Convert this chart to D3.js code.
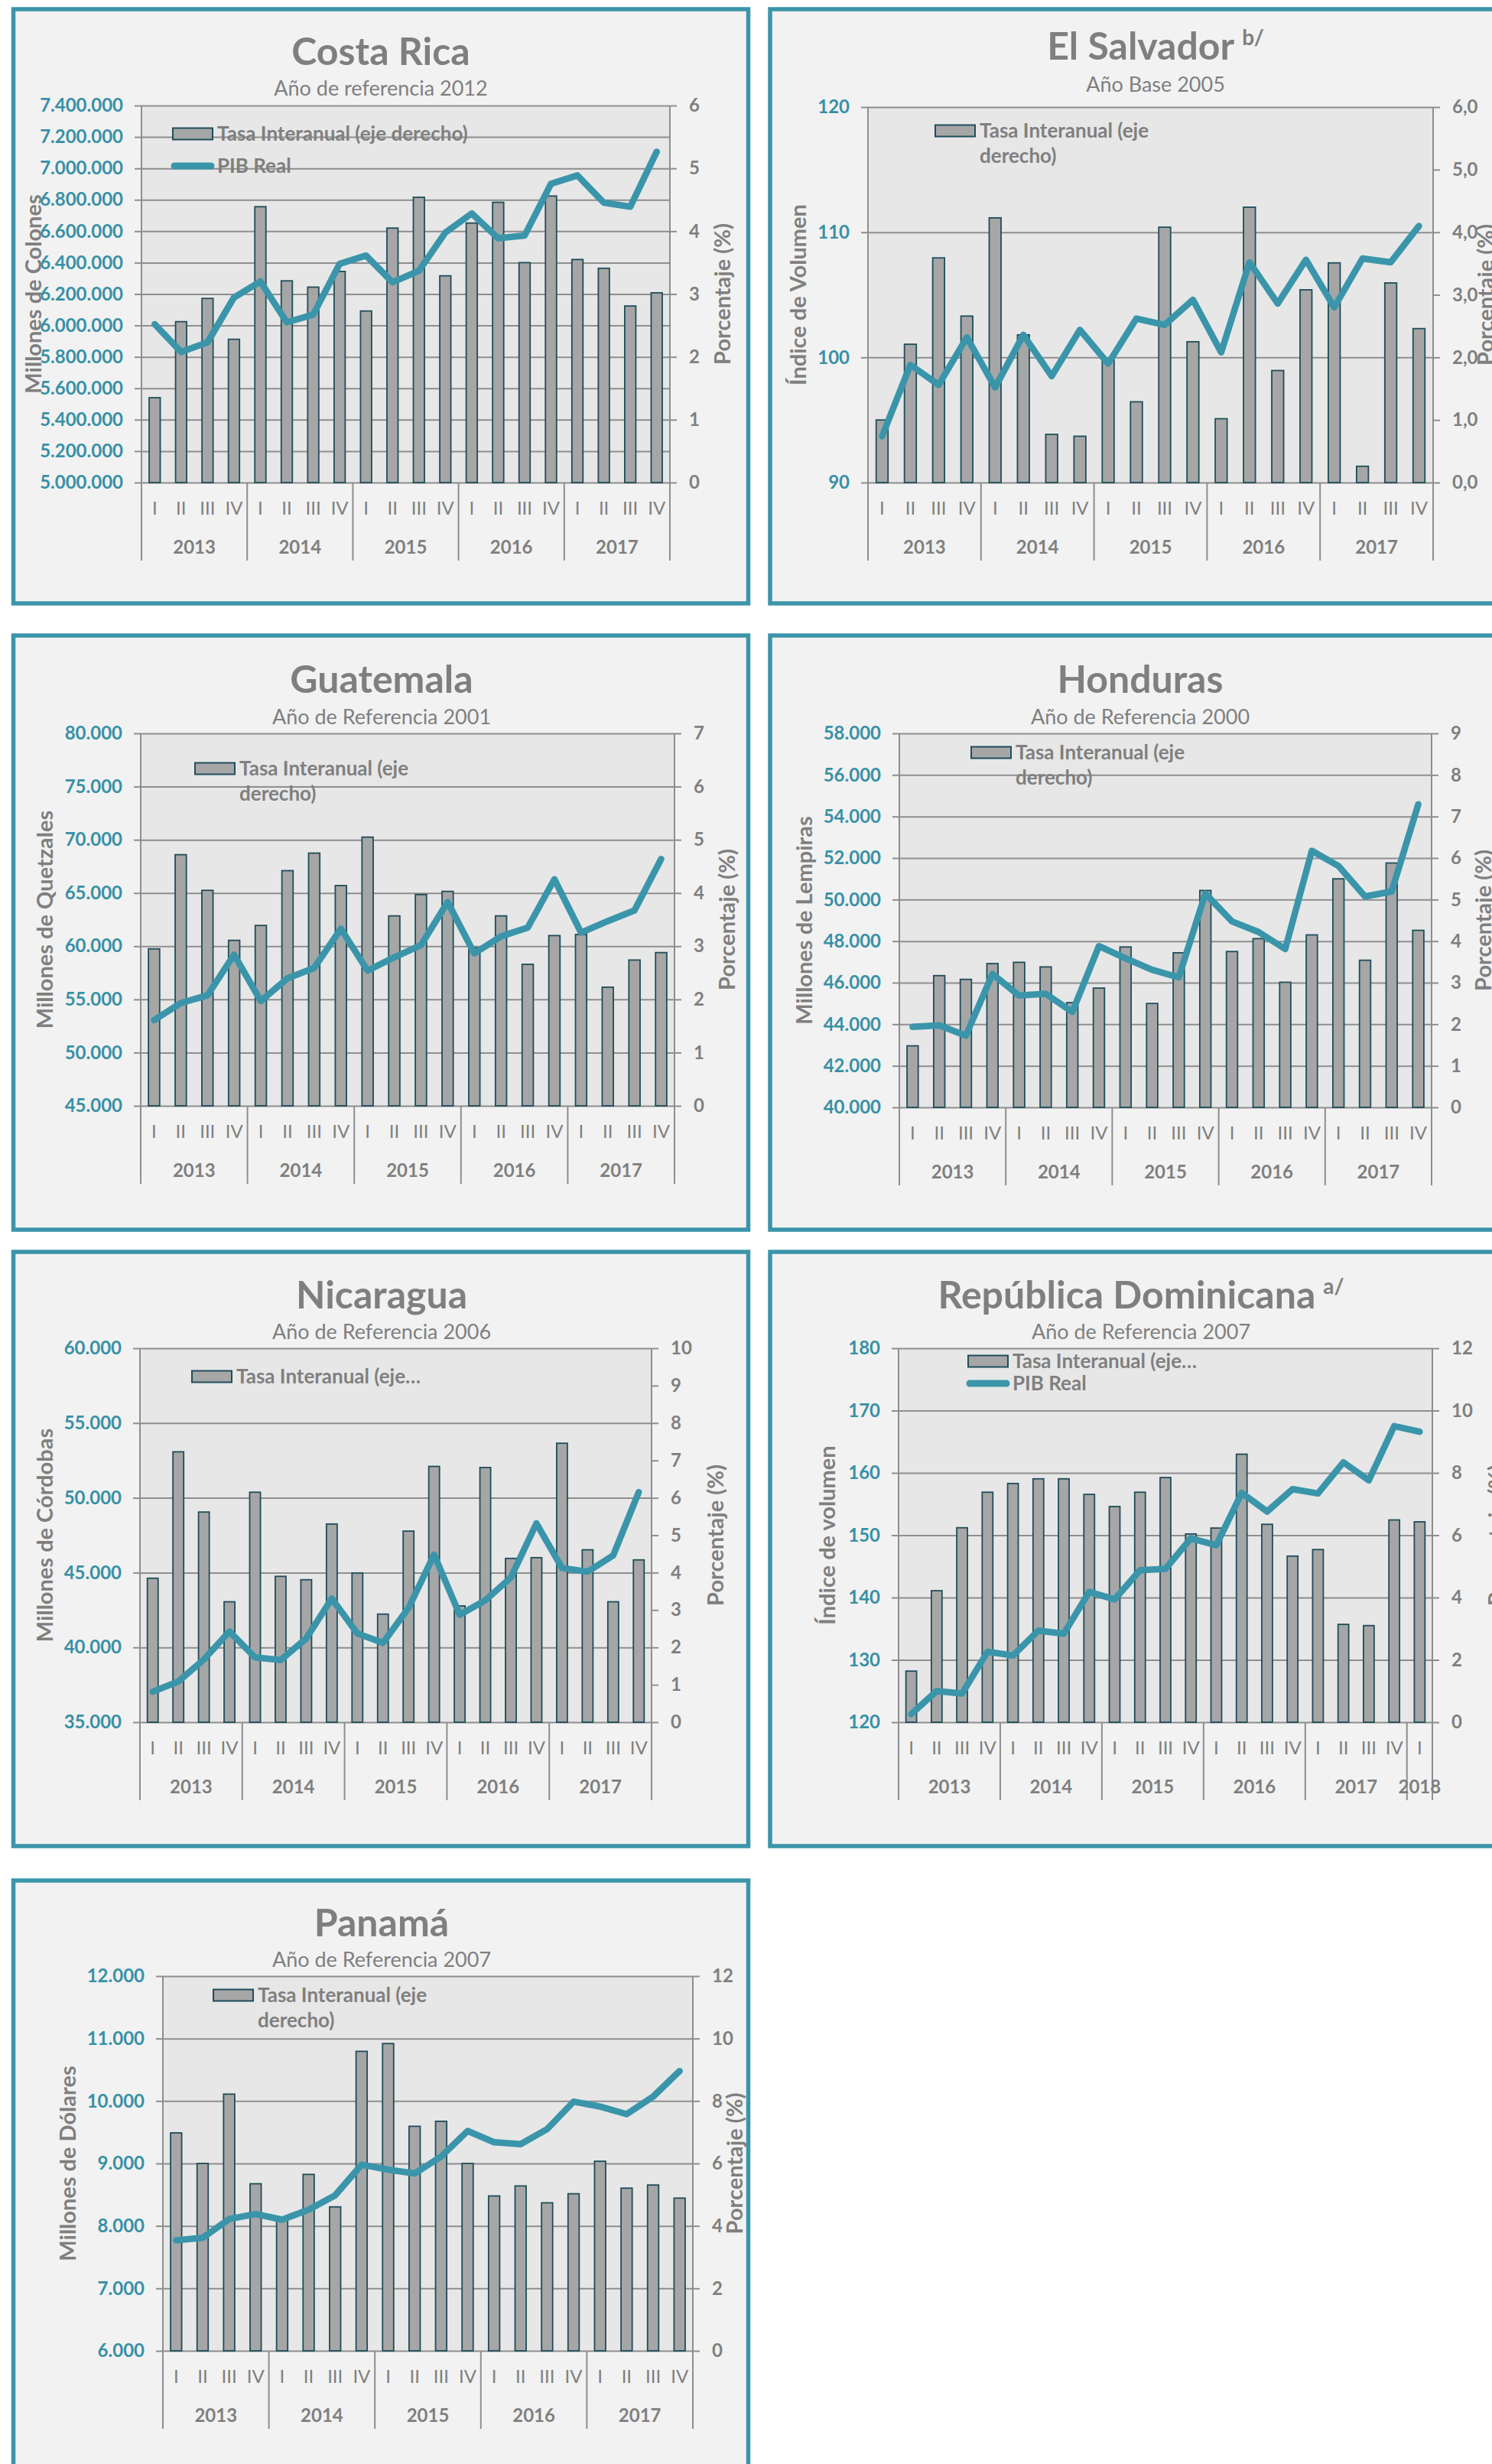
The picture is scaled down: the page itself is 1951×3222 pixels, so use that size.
<!DOCTYPE html>
<html>
<head>
<meta charset="utf-8">
<script src="https://cdn.jsdelivr.net/npm/d3@7"></script>
<style>
  body { margin: 0; background: #ffffff; }
  text { font-family: Lato, "Open Sans", sans-serif; }
</style>
</head>
<body>
<div id="chart"></div>
<script>
// quarters and years on the category axis
const quarters = ["I", "II", "III", "IV"];
const years = ["2013", "2014", "2015", "2016", "2017"];
const rdQuarters2018 = ["I"];

// Costa Rica: PIB real (millones de colones, left) and tasa interanual (% , right)
const crPib = [6008000, 5831000, 5892000, 6178000, 6280000, 6020000, 6069000, 6392000, 6445000, 6275000,
  6348000, 6591000, 6713000, 6555000, 6572000, 6902000, 6955000, 6781000, 6756000, 7106000];
const crTasa = [1.35, 2.56, 2.93, 2.28, 4.39, 3.21, 3.11, 3.36, 2.73, 4.05,
  4.54, 3.29, 4.13, 4.46, 3.50, 4.56, 3.55, 3.41, 2.81, 3.02];

// El Salvador: índice de volumen
const esPib = [93.7, 99.4, 97.8, 101.6, 97.6, 101.8, 98.5, 102.2, 99.5, 103.1,
  102.6, 104.6, 100.4, 107.6, 104.3, 107.8, 104.0, 107.9, 107.6, 110.5];
const esTasa = [1.00, 2.21, 3.59, 2.66, 4.23, 2.36, 0.77, 0.74, 1.98, 1.29,
  4.08, 2.25, 1.02, 4.40, 1.79, 3.08, 3.51, 0.26, 3.19, 2.46];

// Guatemala: millones de quetzales
const gtPib = [53050, 54660, 55380, 59210, 54840, 56990, 57960, 61640, 57700, 58960,
  60100, 64150, 59320, 60930, 61750, 66290, 61280, 62360, 63360, 68190];
const gtTasa = [2.95, 4.72, 4.05, 3.11, 3.39, 4.42, 4.75, 4.14, 5.05, 3.57,
  3.97, 4.03, 2.97, 3.57, 2.66, 3.20, 3.22, 2.23, 2.74, 2.88];

// Honduras: millones de lempiras
const hnPib = [43870, 43950, 43450, 46420, 45380, 45470, 44590, 47760, 47170, 46620,
  46260, 50290, 48950, 48440, 47620, 52350, 51620, 50150, 50390, 54590];
const hnTasa = [1.48, 3.17, 3.08, 3.46, 3.49, 3.38, 2.52, 2.87, 3.86, 2.50,
  3.72, 5.22, 3.75, 4.06, 3.01, 4.15, 5.50, 3.54, 5.88, 4.26];

// Nicaragua: millones de córdobas
const niPib = [37040, 37720, 39200, 41060, 39330, 39150, 40600, 43270, 40930, 40300,
  42640, 46200, 42180, 43150, 44670, 48290, 45310, 45060, 46150, 50380];
const niTasa = [3.85, 7.23, 5.62, 3.22, 6.15, 3.90, 3.81, 5.30, 3.99, 2.89,
  5.11, 6.84, 3.11, 6.81, 4.38, 4.40, 7.46, 4.61, 3.22, 4.34];

// República Dominicana: índice de volumen (goes to 2018 I)
const rdPib = [121.3, 125.0, 124.6, 131.3, 130.7, 134.7, 134.2, 140.9, 139.7, 144.4,
  144.6, 149.5, 148.4, 156.8, 153.8, 157.4, 156.7, 161.7, 158.8, 167.5, 166.6];
const rdTasa = [1.64, 4.22, 6.24, 7.38, 7.66, 7.81, 7.81, 7.31, 6.92, 7.38,
  7.85, 6.04, 6.23, 8.60, 6.35, 5.33, 5.54, 3.14, 3.10, 6.49, 6.43];

// Panamá: millones de dólares
const paPib = [7770, 7810, 8110, 8190, 8100, 8260, 8490, 8980, 8900, 8840,
  9110, 9520, 9340, 9310, 9550, 9990, 9910, 9790, 10070, 10480];
const paTasa = [6.98, 6.00, 8.22, 5.35, 4.25, 5.65, 4.61, 9.59, 9.84, 7.19,
  7.35, 6.00, 4.96, 5.28, 4.74, 5.03, 6.07, 5.21, 5.31, 4.89];

// category lists built from quarters x years
const stdCats = years.flatMap(y => quarters.map(q => ({ year: y, q: q })));
const rdCats = stdCats.concat(rdQuarters2018.map(q => ({ year: "2018", q: q })));

// colours
const TEAL = "#3a95aa";
const TEAL_TXT = "#3790a6";
const GREY_TXT = "#7f7f7f";
const GRID = "#8e8e8e";
const BAR_FILL = "#a6a6a6";
const BAR_EDGE = "#1f4d5a";

const es = d3.formatLocale({ decimal: ",", thousands: ".", grouping: [3], currency: ["", ""] });

// one entry per panel: which arrays it uses and where it sits on the page
const panels = [
  { title: "Costa Rica", sup: "", sub: "Año de referencia 2012", box: [17.5, 12], tx: 498, ty: 67, sy: 116,
    pib: crPib, tasa: crTasa, cats: stdCats, plot: [185, 876, 138, 631],
    left: [5000000, 7400000, 200000], right: [0, 6, 1], rfmt: ",.0f",
    ltitle: "Millones de Colones", ltx: 44, rtx: 945,
    legend: { x: 226, y: 175, lines: ["Tasa Interanual (eje derecho)"], pibY: 217 } },
  { title: "El Salvador", sup: "b/", sub: "Año Base 2005", box: [1007, 12], tx: 1511, ty: 60, sy: 111,
    pib: esPib, tasa: esTasa, cats: stdCats, plot: [1135, 1874, 140, 631],
    left: [90, 120, 10], right: [0, 6, 1], rfmt: ",.1f",
    ltitle: "Índice de Volumen", ltx: 1044, rtx: 1943,
    legend: { x: 1223, y: 171, lines: ["Tasa Interanual (eje", "derecho)"] } },
  { title: "Guatemala", sup: "", sub: "Año de Referencia 2001", box: [17.5, 831], tx: 499, ty: 888, sy: 938,
    pib: gtPib, tasa: gtTasa, cats: stdCats, plot: [184, 882, 959, 1446],
    left: [45000, 80000, 5000], right: [0, 7, 1], rfmt: ",.0f",
    ltitle: "Millones de Quetzales", ltx: 59, rtx: 951,
    legend: { x: 255, y: 1005, lines: ["Tasa Interanual (eje", "derecho)"] } },
  { title: "Honduras", sup: "", sub: "Año de Referencia 2000", box: [1007, 831], tx: 1491, ty: 888, sy: 938,
    pib: hnPib, tasa: hnTasa, cats: stdCats, plot: [1176, 1872, 959, 1448],
    left: [40000, 58000, 2000], right: [0, 9, 1], rfmt: ",.0f",
    ltitle: "Millones de Lempiras", ltx: 1052, rtx: 1940,
    legend: { x: 1270, y: 984, lines: ["Tasa Interanual (eje", "derecho)"] } },
  { title: "Nicaragua", sup: "", sub: "Año de Referencia 2006", box: [17.5, 1637], tx: 499, ty: 1693, sy: 1742,
    pib: niPib, tasa: niTasa, cats: stdCats, plot: [183, 852, 1763, 2252],
    left: [35000, 60000, 5000], right: [0, 10, 1], rfmt: ",.0f",
    ltitle: "Millones de Córdobas", ltx: 59, rtx: 936,
    legend: { x: 251, y: 1800, lines: ["Tasa Interanual (eje…"] } },
  { title: "República Dominicana", sup: "a/", sub: "Año de Referencia 2007", box: [1007, 1637], tx: 1492, ty: 1693, sy: 1742,
    pib: rdPib, tasa: rdTasa, cats: rdCats, plot: [1175, 1873, 1763, 2252],
    left: [120, 180, 10], right: [0, 12, 2], rfmt: ",.0f",
    ltitle: "Índice de volumen", ltx: 1082, rtx: 1957,
    legend: { x: 1266, y: 1780, lines: ["Tasa Interanual (eje…"], pibY: 1809 } },
  { title: "Panamá", sup: "", sub: "Año de Referencia 2007", box: [17.5, 2459], tx: 499, ty: 2514, sy: 2563,
    pib: paPib, tasa: paTasa, cats: stdCats, plot: [213, 906, 2584, 3074],
    left: [6000, 12000, 1000], right: [0, 12, 2], rfmt: ",.0f",
    ltitle: "Millones de Dólares", ltx: 89, rtx: 961,
    legend: { x: 279, y: 2609, lines: ["Tasa Interanual (eje", "derecho)"] } }
];

const svg = d3.select("#chart").append("svg")
  .attr("width", 1951)
  .attr("height", 3222);

function drawPanel(p) {
  const g = svg.append("g");
  const [x0, x1, y0, y1] = p.plot;

  // panel frame
  g.append("rect")
    .attr("x", p.box[0]).attr("y", p.box[1])
    .attr("width", 961).attr("height", 777)
    .attr("fill", "#f2f2f2")
    .attr("stroke", TEAL).attr("stroke-width", 5.5);

  // title + optional superscript note
  const t = g.append("text")
    .attr("x", p.tx).attr("y", p.ty + 18)
    .attr("text-anchor", "middle")
    .attr("font-size", 50).attr("font-weight", 700)
    .attr("fill", GREY_TXT)
    .text(p.title);
  if (p.sup) {
    t.append("tspan").attr("font-size", 28).attr("dx", 10).attr("dy", -19).text(p.sup);
  }
  g.append("text")
    .attr("x", p.tx).attr("y", p.sy + 9)
    .attr("text-anchor", "middle")
    .attr("font-size", 27)
    .attr("fill", GREY_TXT)
    .text(p.sub);

  // scales
  const x = d3.scaleBand()
    .domain(d3.range(p.cats.length))
    .range([x0, x1])
    .paddingInner(0.58)
    .paddingOuter(0.29);
  const yL = d3.scaleLinear().domain([p.left[0], p.left[1]]).range([y1, y0]);
  const yR = d3.scaleLinear().domain([p.right[0], p.right[1]]).range([y1, y0]);
  const leftTicks = d3.range(p.left[0], p.left[1] + p.left[2] / 2, p.left[2]);
  const rightTicks = d3.range(p.right[0], p.right[1] + p.right[2] / 2, p.right[2]);

  // plot background
  g.append("rect")
    .attr("x", x0).attr("y", y0)
    .attr("width", x1 - x0).attr("height", y1 - y0)
    .attr("fill", "#e7e7e7");

  // gridlines at the left-axis ticks
  const grid = g.append("g")
    .attr("transform", `translate(${x0},0)`)
    .call(d3.axisLeft(yL).tickValues(leftTicks).tickSize(-(x1 - x0)).tickFormat(""));
  grid.select(".domain").remove();
  grid.selectAll(".tick line").attr("stroke", GRID).attr("stroke-width", 2);

  // left axis: outward ticks + teal labels
  const ax = g.append("g")
    .attr("transform", `translate(${x0},0)`)
    .call(d3.axisLeft(yL).tickValues(leftTicks).tickSize(9).tickPadding(15)
      .tickFormat(es.format(",.0f")));
  ax.select(".domain").remove();
  ax.selectAll(".tick line").attr("stroke", GRID).attr("stroke-width", 2);
  ax.selectAll(".tick text")
    .attr("fill", TEAL_TXT).attr("font-size", 24).attr("font-weight", 700)
    .attr("font-family", "Lato, sans-serif");

  // right axis
  const ar = g.append("g")
    .attr("transform", `translate(${x1},0)`)
    .call(d3.axisRight(yR).tickValues(rightTicks).tickSize(9).tickPadding(16)
      .tickFormat(es.format(p.rfmt)));
  ar.select(".domain").remove();
  ar.selectAll(".tick line").attr("stroke", GRID).attr("stroke-width", 2);
  ar.selectAll(".tick text")
    .attr("fill", GREY_TXT).attr("font-size", 24).attr("font-weight", 700)
    .attr("font-family", "Lato, sans-serif");

  // category axis: groups by year, separators drop below the plot
  const sepH = 102;
  const half = (x.step() - x.bandwidth()) / 2;
  const groups = d3.groups(p.cats.map((c, i) => ({ ...c, i })), d => d.year);
  const bounds = [x0];
  groups.forEach(([yr, items]) => {
    const last = items[items.length - 1].i;
    bounds.push(x(last) + x.bandwidth() + half);
  });
  g.selectAll(".sep").data(bounds).join("line")
    .attr("x1", d => d).attr("x2", d => d)
    .attr("y1", (d, i) => (i === 0 || i === bounds.length - 1) ? y0 : y1)
    .attr("y2", y1 + sepH)
    .attr("stroke", GRID).attr("stroke-width", 2);

  g.selectAll(".qlab").data(p.cats).join("text")
    .attr("x", (d, i) => x(i) + x.bandwidth() / 2)
    .attr("y", y1 + 42)
    .attr("text-anchor", "middle")
    .attr("font-size", 24)
    .attr("fill", GREY_TXT)
    .text(d => d.q);

  g.selectAll(".ylab").data(groups).join("text")
    .attr("x", ([yr, items]) => {
      const a = items[0].i, b = items[items.length - 1].i;
      return (x(a) + x(b) + x.bandwidth()) / 2;
    })
    .attr("y", y1 + 93)
    .attr("text-anchor", "middle")
    .attr("font-size", 24).attr("font-weight", 700)
    .attr("fill", GREY_TXT)
    .text(([yr]) => yr);

  // bars: tasa interanual on the right axis
  g.selectAll(".bar").data(p.tasa).join("rect")
    .attr("x", (d, i) => x(i))
    .attr("y", d => yR(d))
    .attr("width", x.bandwidth())
    .attr("height", d => y1 - yR(d))
    .attr("fill", BAR_FILL)
    .attr("stroke", BAR_EDGE).attr("stroke-width", 1.8);

  // line: PIB real on the left axis
  const line = d3.line()
    .x((d, i) => x(i) + x.bandwidth() / 2)
    .y(d => yL(d));
  g.append("path")
    .datum(p.pib)
    .attr("d", line)
    .attr("fill", "none")
    .attr("stroke", TEAL).attr("stroke-width", 8.5)
    .attr("stroke-linejoin", "round").attr("stroke-linecap", "round");

  // legend
  const L = p.legend;
  g.append("rect")
    .attr("x", L.x).attr("y", L.y - 7.5)
    .attr("width", 52).attr("height", 15)
    .attr("fill", BAR_FILL).attr("stroke", BAR_EDGE).attr("stroke-width", 2);
  L.lines.forEach((s, k) => {
    g.append("text")
      .attr("x", L.x + 58).attr("y", L.y + 9 + k * 32.5)
      .attr("font-size", 26).attr("font-weight", 700)
      .attr("fill", GREY_TXT)
      .text(s);
  });
  if (L.pibY) {
    g.append("line")
      .attr("x1", L.x + 2).attr("x2", L.x + 50)
      .attr("y1", L.pibY).attr("y2", L.pibY)
      .attr("stroke", TEAL).attr("stroke-width", 9).attr("stroke-linecap", "round");
    g.append("text")
      .attr("x", L.x + 58).attr("y", L.pibY + 9)
      .attr("font-size", 26).attr("font-weight", 700)
      .attr("fill", GREY_TXT)
      .text("PIB Real");
  }

  // axis titles
  const cy = (y0 + y1) / 2;
  g.append("text")
    .attr("transform", `translate(${p.ltx + 10},${cy}) rotate(-90)`)
    .attr("text-anchor", "middle")
    .attr("font-size", 29).attr("font-weight", 700)
    .attr("fill", GREY_TXT)
    .text(p.ltitle);
  g.append("text")
    .attr("transform", `translate(${p.rtx + 10},${cy}) rotate(-90)`)
    .attr("text-anchor", "middle")
    .attr("font-size", 29).attr("font-weight", 700)
    .attr("fill", GREY_TXT)
    .text("Porcentaje (%)");
}

panels.forEach(drawPanel);
</script>
</body>
</html>
